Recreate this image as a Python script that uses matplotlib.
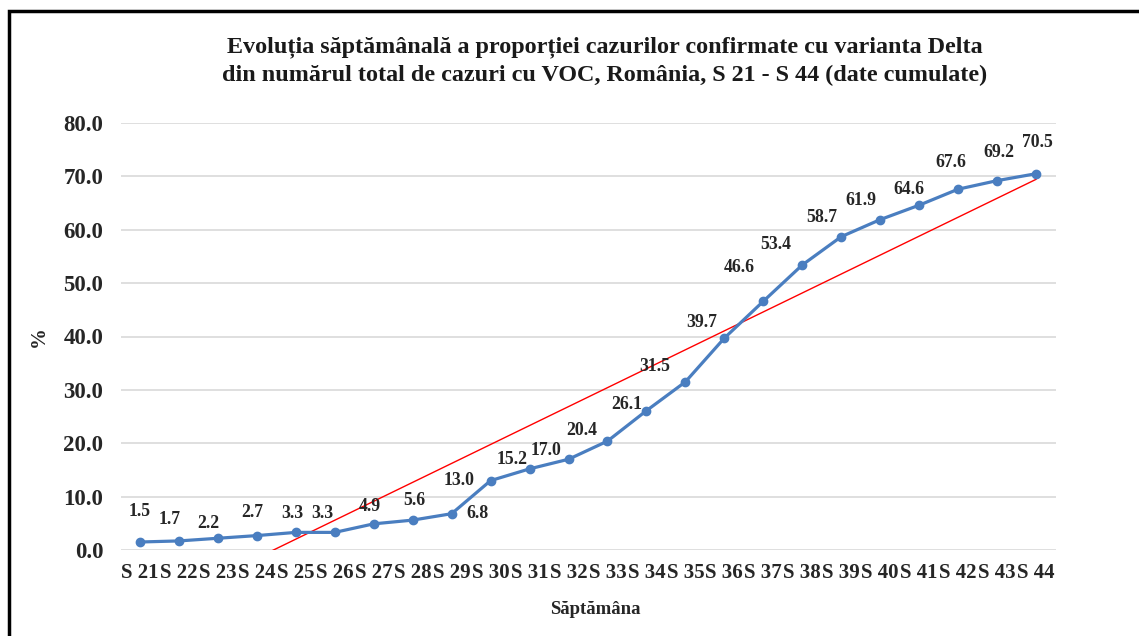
import numpy as np
import matplotlib
matplotlib.use('Agg')
import matplotlib.pyplot as plt
from matplotlib.patches import Rectangle

plt.rcParams['font.family'] = ['Liberation Serif', 'DejaVu Serif']

weeks = ['S 21', 'S 22', 'S 23', 'S 24', 'S 25', 'S 26', 'S 27', 'S 28', 'S 29', 'S 30',
         'S 31', 'S 32', 'S 33', 'S 34', 'S 35', 'S 36', 'S 37', 'S 38', 'S 39', 'S 40',
         'S 41', 'S 42', 'S 43', 'S 44']
delta_pct = [1.5, 1.7, 2.2, 2.7, 3.3, 3.3, 4.9, 5.6, 6.8, 13.0, 15.2, 17.0, 20.4, 26.1,
             31.5, 39.7, 46.6, 53.4, 58.7, 61.9, 64.6, 67.6, 69.2, 70.5]

# label offsets in pixels (dx, dy), hand placed like in the original
label_offsets = [(0, 30), (-9, 21), (-10, 15), (-5, 23), (-3, 19), (-12, 19), (-4, 17),
                 (2, 20), (26, 0), (-31, 0), (-17, 9), (-22, 9), (-26, 11), (-20, 6),
                 (-31, 15), (-23, 16), (-24, 34), (-27, 20), (-19, 19), (-19, 19),
                 (-10, 16), (-7, 27), (2, 28), (1, 31)]

W, H = 1139, 636
fig = plt.figure(figsize=(W / 100, H / 100), dpi=100)
ax = fig.add_axes([120.5 / W, 86 / H, 935 / W, 427 / H])

x = np.arange(len(weeks))
y = np.array(delta_pct)

# linear trend line (excel style)
coef = np.polyfit(x, y, 1)
ax.plot(x, np.polyval(coef, x), color='#FF0000', lw=1.0, zorder=2)

ax.plot(x, y, color='#4A7EC0', lw=2.3, marker='o', markersize=6, zorder=3)

for i, v in enumerate(delta_pct):
    dx, dy = label_offsets[i]
    ax.annotate(f'{v:.1f}', (x[i], v), xytext=(dx, dy), textcoords='offset pixels',
                ha='center', va='center', fontsize=12.8, fontweight='bold', color='#262626',
                zorder=4)

ax.set_xlim(-0.5, len(weeks) - 0.5)
ax.set_ylim(0, 80)
ax.set_yticks(np.arange(0, 81, 10))
ax.set_yticklabels([f'{t:.1f}' for t in np.arange(0, 81, 10)])
ax.set_xticks(x)
ax.set_xticklabels(weeks)
ax.tick_params(axis='both', length=0, labelsize=15, colors='#262626')
ax.tick_params(axis='y', pad=12.5, labelsize=16.5)
ax.tick_params(axis='x', pad=9)
for lab in ax.get_xticklabels() + ax.get_yticklabels():
    lab.set_fontweight('bold')
ax.grid(axis='y', color='#D9D9D9', lw=1.2)
ax.set_axisbelow(True)
for s in ax.spines.values():
    s.set_visible(False)

ax.set_xlabel('Săptămâna', fontsize=13.5, fontweight='bold', color='#262626')
ax.xaxis.set_label_coords((595 - 120.5) / 935, -0.119)
ax.set_ylabel('%', fontsize=15, fontweight='bold', color='#262626')
ax.yaxis.set_label_coords((49 - 120.5) / 935, 0.5)

fig.text(605 / W, 1 - 61 / H,
         'Evoluția săptămânală a proporției cazurilor confirmate cu varianta Delta\n'
         'din numărul total de cazuri cu VOC, România, S 21 - S 44 (date cumulate)',
         ha='center', va='center', fontsize=17.4, fontweight='bold', color='#1a1a1a',
         linespacing=1.45)

# outer frame (runs past the right and bottom edges)
fig.patches.append(Rectangle((9 / W, -0.1), 1.2, 1 - 11 / H + 0.1, transform=fig.transFigure,
                             fill=False, edgecolor='black', lw=2.5))

fig.savefig('out.png', dpi=100)
